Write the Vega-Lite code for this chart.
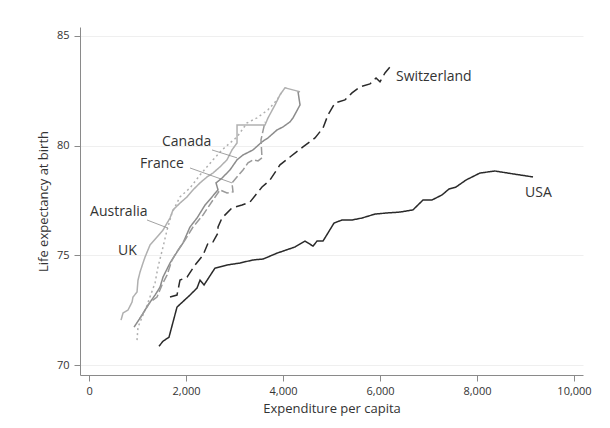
{
  "$schema": "https://vega.github.io/schema/vega-lite/v6.json",
  "width": 503,
  "height": 348,
  "autosize": {"type": "none"},
  "padding": {"left": 80, "top": 27, "right": 27, "bottom": 53},
  "background": "white",
  "config": {
    "view": {"stroke": null},
    "font": "Open Sans",
    "axis": {
      "domainColor": "#8a8a8a",
      "tickColor": "#8a8a8a",
      "labelColor": "#333333",
      "titleColor": "#333333",
      "labelFontSize": 11,
      "titleFontSize": 13,
      "titleFontWeight": "normal",
      "labelFont": "Open Sans",
      "titleFont": "Open Sans"
    }
  },
  "datasets": {
    "series": [
      {"country": "USA", "seq": 1, "spend": 1443, "life": 70.86},
      {"country": "USA", "seq": 2, "spend": 1526, "life": 71.09},
      {"country": "USA", "seq": 3, "spend": 1649, "life": 71.27},
      {"country": "USA", "seq": 4, "spend": 1814, "life": 72.64},
      {"country": "USA", "seq": 5, "spend": 1876, "life": 72.77},
      {"country": "USA", "seq": 6, "spend": 2082, "life": 73.19},
      {"country": "USA", "seq": 7, "spend": 2227, "life": 73.51},
      {"country": "USA", "seq": 8, "spend": 2289, "life": 73.87},
      {"country": "USA", "seq": 9, "spend": 2371, "life": 73.65},
      {"country": "USA", "seq": 10, "spend": 2598, "life": 74.42},
      {"country": "USA", "seq": 11, "spend": 2845, "life": 74.56},
      {"country": "USA", "seq": 12, "spend": 3113, "life": 74.65},
      {"country": "USA", "seq": 13, "spend": 3381, "life": 74.79},
      {"country": "USA", "seq": 14, "spend": 3588, "life": 74.83},
      {"country": "USA", "seq": 15, "spend": 3876, "life": 75.10},
      {"country": "USA", "seq": 16, "spend": 4247, "life": 75.38},
      {"country": "USA", "seq": 17, "spend": 4454, "life": 75.65},
      {"country": "USA", "seq": 18, "spend": 4619, "life": 75.42},
      {"country": "USA", "seq": 19, "spend": 4701, "life": 75.65},
      {"country": "USA", "seq": 20, "spend": 4825, "life": 75.65},
      {"country": "USA", "seq": 21, "spend": 5052, "life": 76.47},
      {"country": "USA", "seq": 22, "spend": 5216, "life": 76.61},
      {"country": "USA", "seq": 23, "spend": 5423, "life": 76.61},
      {"country": "USA", "seq": 24, "spend": 5629, "life": 76.70},
      {"country": "USA", "seq": 25, "spend": 5897, "life": 76.88},
      {"country": "USA", "seq": 26, "spend": 6144, "life": 76.93},
      {"country": "USA", "seq": 27, "spend": 6412, "life": 76.97},
      {"country": "USA", "seq": 28, "spend": 6680, "life": 77.07},
      {"country": "USA", "seq": 29, "spend": 6887, "life": 77.52},
      {"country": "USA", "seq": 30, "spend": 7072, "life": 77.52},
      {"country": "USA", "seq": 31, "spend": 7278, "life": 77.75},
      {"country": "USA", "seq": 32, "spend": 7423, "life": 78.02},
      {"country": "USA", "seq": 33, "spend": 7567, "life": 78.11},
      {"country": "USA", "seq": 34, "spend": 7773, "life": 78.43},
      {"country": "USA", "seq": 35, "spend": 8062, "life": 78.75},
      {"country": "USA", "seq": 36, "spend": 8371, "life": 78.84},
      {"country": "USA", "seq": 37, "spend": 8742, "life": 78.71},
      {"country": "USA", "seq": 38, "spend": 9155, "life": 78.57},

      {"country": "Switzerland", "seq": 1, "spend": 1670, "life": 73.10},
      {"country": "Switzerland", "seq": 2, "spend": 1814, "life": 73.19},
      {"country": "Switzerland", "seq": 3, "spend": 1876, "life": 73.87},
      {"country": "Switzerland", "seq": 4, "spend": 2021, "life": 74.01},
      {"country": "Switzerland", "seq": 5, "spend": 2186, "life": 74.56},
      {"country": "Switzerland", "seq": 6, "spend": 2351, "life": 75.01},
      {"country": "Switzerland", "seq": 7, "spend": 2454, "life": 75.56},
      {"country": "Switzerland", "seq": 8, "spend": 2557, "life": 75.61},
      {"country": "Switzerland", "seq": 9, "spend": 2660, "life": 76.02},
      {"country": "Switzerland", "seq": 10, "spend": 2660, "life": 76.29},
      {"country": "Switzerland", "seq": 11, "spend": 2742, "life": 76.70},
      {"country": "Switzerland", "seq": 12, "spend": 2948, "life": 77.16},
      {"country": "Switzerland", "seq": 13, "spend": 3155, "life": 77.29},
      {"country": "Switzerland", "seq": 14, "spend": 3320, "life": 77.43},
      {"country": "Switzerland", "seq": 15, "spend": 3567, "life": 78.11},
      {"country": "Switzerland", "seq": 16, "spend": 3732, "life": 78.43},
      {"country": "Switzerland", "seq": 17, "spend": 3938, "life": 79.12},
      {"country": "Switzerland", "seq": 18, "spend": 4144, "life": 79.48},
      {"country": "Switzerland", "seq": 19, "spend": 4412, "life": 79.94},
      {"country": "Switzerland", "seq": 20, "spend": 4660, "life": 80.35},
      {"country": "Switzerland", "seq": 21, "spend": 4825, "life": 80.80},
      {"country": "Switzerland", "seq": 22, "spend": 4928, "life": 81.40},
      {"country": "Switzerland", "seq": 23, "spend": 5072, "life": 81.94},
      {"country": "Switzerland", "seq": 24, "spend": 5278, "life": 82.08},
      {"country": "Switzerland", "seq": 25, "spend": 5423, "life": 82.40},
      {"country": "Switzerland", "seq": 26, "spend": 5588, "life": 82.67},
      {"country": "Switzerland", "seq": 27, "spend": 5794, "life": 82.81},
      {"country": "Switzerland", "seq": 28, "spend": 5918, "life": 83.08},
      {"country": "Switzerland", "seq": 29, "spend": 6000, "life": 82.90},
      {"country": "Switzerland", "seq": 30, "spend": 6103, "life": 83.31},
      {"country": "Switzerland", "seq": 31, "spend": 6227, "life": 83.63},

      {"country": "UK", "seq": 1, "spend": 660, "life": 72.05},
      {"country": "UK", "seq": 2, "spend": 701, "life": 72.37},
      {"country": "UK", "seq": 3, "spend": 804, "life": 72.51},
      {"country": "UK", "seq": 4, "spend": 887, "life": 72.87},
      {"country": "UK", "seq": 5, "spend": 907, "life": 73.10},
      {"country": "UK", "seq": 6, "spend": 990, "life": 73.33},
      {"country": "UK", "seq": 7, "spend": 1010, "life": 73.87},
      {"country": "UK", "seq": 8, "spend": 1052, "life": 74.24},
      {"country": "UK", "seq": 9, "spend": 1113, "life": 74.65},
      {"country": "UK", "seq": 10, "spend": 1155, "life": 74.92},
      {"country": "UK", "seq": 11, "spend": 1258, "life": 75.47},
      {"country": "UK", "seq": 12, "spend": 1402, "life": 75.83},
      {"country": "UK", "seq": 13, "spend": 1526, "life": 76.15},
      {"country": "UK", "seq": 14, "spend": 1670, "life": 76.70},
      {"country": "UK", "seq": 15, "spend": 1732, "life": 77.07},
      {"country": "UK", "seq": 16, "spend": 1876, "life": 77.38},
      {"country": "UK", "seq": 17, "spend": 2021, "life": 77.66},
      {"country": "UK", "seq": 18, "spend": 2144, "life": 77.98},
      {"country": "UK", "seq": 19, "spend": 2289, "life": 78.30},
      {"country": "UK", "seq": 20, "spend": 2433, "life": 78.57},
      {"country": "UK", "seq": 21, "spend": 2557, "life": 78.75},
      {"country": "UK", "seq": 22, "spend": 2701, "life": 79.03},
      {"country": "UK", "seq": 23, "spend": 2845, "life": 79.35},
      {"country": "UK", "seq": 24, "spend": 2948, "life": 79.80},
      {"country": "UK", "seq": 25, "spend": 3052, "life": 80.12},
      {"country": "UK", "seq": 26, "spend": 3052, "life": 80.94},
      {"country": "UK", "seq": 27, "spend": 3629, "life": 80.94},
      {"country": "UK", "seq": 28, "spend": 3691, "life": 81.26},
      {"country": "UK", "seq": 29, "spend": 3835, "life": 81.85},
      {"country": "UK", "seq": 30, "spend": 3938, "life": 82.31},
      {"country": "UK", "seq": 31, "spend": 4041, "life": 82.63},
      {"country": "UK", "seq": 32, "spend": 4351, "life": 82.45},

      {"country": "Australia", "seq": 1, "spend": 990, "life": 71.14},
      {"country": "Australia", "seq": 2, "spend": 1010, "life": 71.73},
      {"country": "Australia", "seq": 3, "spend": 1196, "life": 72.73},
      {"country": "Australia", "seq": 4, "spend": 1361, "life": 73.74},
      {"country": "Australia", "seq": 5, "spend": 1423, "life": 74.47},
      {"country": "Australia", "seq": 6, "spend": 1526, "life": 75.38},
      {"country": "Australia", "seq": 7, "spend": 1608, "life": 76.15},
      {"country": "Australia", "seq": 8, "spend": 1711, "life": 76.93},
      {"country": "Australia", "seq": 9, "spend": 1876, "life": 77.66},
      {"country": "Australia", "seq": 10, "spend": 2082, "life": 78.07},
      {"country": "Australia", "seq": 11, "spend": 2289, "life": 78.66},
      {"country": "Australia", "seq": 12, "spend": 2557, "life": 79.35},
      {"country": "Australia", "seq": 13, "spend": 2742, "life": 79.80},
      {"country": "Australia", "seq": 14, "spend": 2907, "life": 80.12},
      {"country": "Australia", "seq": 15, "spend": 3052, "life": 80.39},
      {"country": "Australia", "seq": 16, "spend": 3258, "life": 81.03},
      {"country": "Australia", "seq": 17, "spend": 3464, "life": 81.26},
      {"country": "Australia", "seq": 18, "spend": 3691, "life": 81.63},
      {"country": "Australia", "seq": 19, "spend": 3876, "life": 82.08},
      {"country": "Australia", "seq": 20, "spend": 3979, "life": 82.45},

      {"country": "Canada", "seq": 1, "spend": 928, "life": 71.73},
      {"country": "Canada", "seq": 2, "spend": 1093, "life": 72.28},
      {"country": "Canada", "seq": 3, "spend": 1216, "life": 72.73},
      {"country": "Canada", "seq": 4, "spend": 1361, "life": 73.19},
      {"country": "Canada", "seq": 5, "spend": 1464, "life": 73.55},
      {"country": "Canada", "seq": 6, "spend": 1526, "life": 74.01},
      {"country": "Canada", "seq": 7, "spend": 1670, "life": 74.65},
      {"country": "Canada", "seq": 8, "spend": 1814, "life": 75.15},
      {"country": "Canada", "seq": 9, "spend": 1938, "life": 75.56},
      {"country": "Canada", "seq": 10, "spend": 2082, "life": 76.29},
      {"country": "Canada", "seq": 11, "spend": 2227, "life": 76.70},
      {"country": "Canada", "seq": 12, "spend": 2392, "life": 77.29},
      {"country": "Canada", "seq": 13, "spend": 2536, "life": 77.66},
      {"country": "Canada", "seq": 14, "spend": 2660, "life": 77.98},
      {"country": "Canada", "seq": 15, "spend": 2619, "life": 78.30},
      {"country": "Canada", "seq": 16, "spend": 2742, "life": 78.52},
      {"country": "Canada", "seq": 17, "spend": 2907, "life": 78.89},
      {"country": "Canada", "seq": 18, "spend": 3052, "life": 79.35},
      {"country": "Canada", "seq": 19, "spend": 3175, "life": 79.57},
      {"country": "Canada", "seq": 20, "spend": 3381, "life": 79.80},
      {"country": "Canada", "seq": 21, "spend": 3567, "life": 80.17},
      {"country": "Canada", "seq": 22, "spend": 3691, "life": 80.35},
      {"country": "Canada", "seq": 23, "spend": 3876, "life": 80.71},
      {"country": "Canada", "seq": 24, "spend": 4000, "life": 80.85},
      {"country": "Canada", "seq": 25, "spend": 4145, "life": 81.08},
      {"country": "Canada", "seq": 26, "spend": 4206, "life": 81.26},
      {"country": "Canada", "seq": 27, "spend": 4351, "life": 81.85},
      {"country": "Canada", "seq": 28, "spend": 4310, "life": 82.45},

      {"country": "France", "seq": 1, "spend": 1052, "life": 72.14},
      {"country": "France", "seq": 2, "spend": 1258, "life": 72.87},
      {"country": "France", "seq": 3, "spend": 1402, "life": 73.10},
      {"country": "France", "seq": 4, "spend": 1505, "life": 73.65},
      {"country": "France", "seq": 5, "spend": 1608, "life": 74.10},
      {"country": "France", "seq": 6, "spend": 1711, "life": 74.79},
      {"country": "France", "seq": 7, "spend": 1835, "life": 75.24},
      {"country": "France", "seq": 8, "spend": 1979, "life": 75.70},
      {"country": "France", "seq": 9, "spend": 2144, "life": 76.29},
      {"country": "France", "seq": 10, "spend": 2351, "life": 76.84},
      {"country": "France", "seq": 11, "spend": 2557, "life": 77.52},
      {"country": "France", "seq": 12, "spend": 2701, "life": 77.98},
      {"country": "France", "seq": 13, "spend": 2845, "life": 77.84},
      {"country": "France", "seq": 14, "spend": 2969, "life": 77.89},
      {"country": "France", "seq": 15, "spend": 2948, "life": 78.30},
      {"country": "France", "seq": 16, "spend": 3175, "life": 78.89},
      {"country": "France", "seq": 17, "spend": 3278, "life": 79.21},
      {"country": "France", "seq": 18, "spend": 3381, "life": 79.35},
      {"country": "France", "seq": 19, "spend": 3485, "life": 79.30},
      {"country": "France", "seq": 20, "spend": 3567, "life": 79.44},
      {"country": "France", "seq": 21, "spend": 3546, "life": 80.26},
      {"country": "France", "seq": 22, "spend": 3629, "life": 81.08}
    ],
    "labels": [
      {"label": "Switzerland", "spend": 6330, "life": 83.13},
      {"label": "USA", "spend": 8990, "life": 77.82},
      {"label": "Canada", "spend": 1505, "life": 80.14},
      {"label": "France", "spend": 1052, "life": 79.14},
      {"label": "Australia", "spend": 21, "life": 76.97},
      {"label": "UK", "spend": 598, "life": 75.20}
    ],
    "arrows": [
      {"spend": 2536, "life": 79.80, "spend2": 3052, "life2": 79.44},
      {"spend": 2082, "life": 78.98, "spend2": 2948, "life2": 78.30},
      {"spend": 1196, "life": 76.61, "spend2": 1629, "life2": 76.24}
    ]
  },
  "layer": [
    {
      "data": {"name": "series"},
      "mark": {"type": "line", "strokeWidth": 1.5},
      "encoding": {
        "x": {
          "field": "spend", "type": "quantitative",
          "scale": {"domain": [-186, 10186], "nice": false, "zero": false},
          "axis": {
            "title": "Expenditure per capita",
            "values": [0, 2000, 4000, 6000, 8000, 10000],
            "format": ",d",
            "grid": false,
            "tickSize": 6,
            "labelPadding": 4,
            "titlePadding": 6
          }
        },
        "y": {
          "field": "life", "type": "quantitative",
          "scale": {"domain": [69.55, 85.4], "nice": false, "zero": false},
          "axis": {
            "title": "Life expectancy at birth",
            "values": [70, 75, 80, 85],
            "grid": true,
            "gridColor": "#efefef",
            "tickSize": 6,
            "labelPadding": 5,
            "titlePadding": 6
          }
        },
        "color": {
          "field": "country", "type": "nominal",
          "scale": {
            "domain": ["UK", "Australia", "Canada", "France", "Switzerland", "USA"],
            "range": ["#b0b0b0", "#b0b0b0", "#8c8c8c", "#9a9a9a", "#2a2a2a", "#2a2a2a"]
          },
          "legend": null
        },
        "strokeDash": {
          "field": "country", "type": "nominal",
          "scale": {
            "domain": ["UK", "Australia", "Canada", "France", "Switzerland", "USA"],
            "range": [[1, 0], [2, 3], [1, 0], [8, 3], [10, 5], [1, 0]]
          },
          "legend": null
        },
        "order": {"field": "seq", "type": "quantitative"}
      }
    },
    {
      "data": {"name": "arrows"},
      "mark": {"type": "rule", "color": "#8a8a8a", "strokeWidth": 0.8},
      "encoding": {
        "x": {"field": "spend", "type": "quantitative"},
        "y": {"field": "life", "type": "quantitative"},
        "x2": {"field": "spend2"},
        "y2": {"field": "life2"}
      }
    },
    {
      "data": {"name": "labels"},
      "mark": {"type": "text", "align": "left", "baseline": "middle", "fontSize": 14, "color": "#333333", "font": "Open Sans"},
      "encoding": {
        "x": {"field": "spend", "type": "quantitative"},
        "y": {"field": "life", "type": "quantitative"},
        "text": {"field": "label"}
      }
    }
  ]
}
